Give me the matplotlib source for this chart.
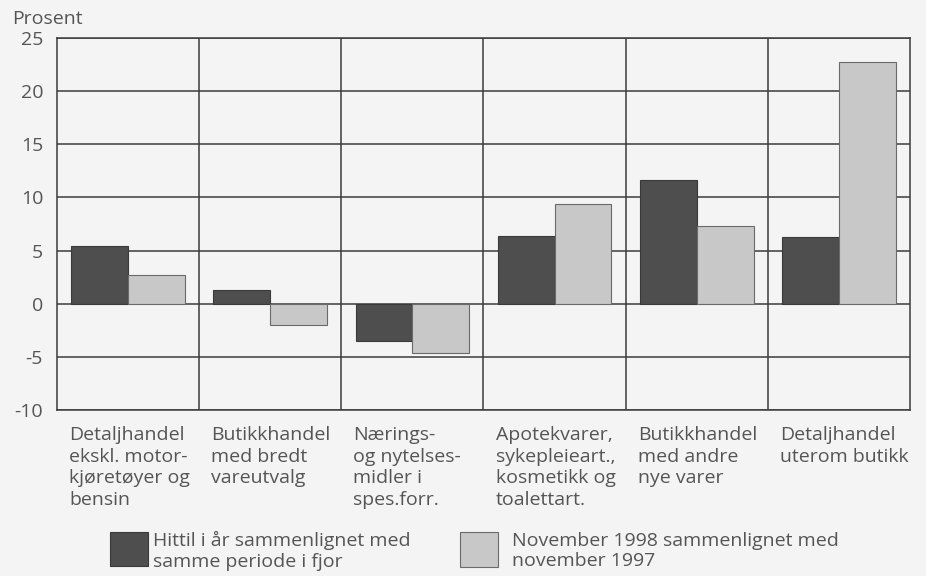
import matplotlib
matplotlib.use("Agg")
import matplotlib.pyplot as plt
from matplotlib.patches import Rectangle
import numpy as np

# Data
categories = [
    "Detaljhandel\nekskl. motor-\nkjøretøyer og\nbensin",
    "Butikkhandel\nmed bredt\nvareutvalg",
    "Nærings-\nog nytelses-\nmidler i\nspes.forr.",
    "Apotekvarer,\nsykepleieart.,\nkosmetikk og\ntoalettart.",
    "Butikkhandel\nmed andre\nnye varer",
    "Detaljhandel\nuterom butikk",
]
hittil = [5.4, 1.25, -3.5, 6.4, 11.65, 6.3]
november = [2.7, -2.0, -4.6, 9.4, 7.3, 22.7]
yticks = [-10, -5, 0, 5, 10, 15, 20, 25]
legend_labels = ["Hittil i år sammenlignet med\nsamme periode i fjor",
                 "November 1998 sammenlignet med\nnovember 1997"]

bg = "#f4f4f4"
dark = "#4e4e4e"
light = "#c8c8c8"
grid = "#3c3c3c"
txt = "#555555"
fs = 14

plt.rcParams['font.family'] = ['Open Sans', 'DejaVu Sans']

fig = plt.figure(figsize=(9.26, 5.76), dpi=100, facecolor=bg)
ax = fig.add_axes([57 / 926, 1 - 410 / 576, (910 - 57) / 926, (410 - 38) / 576])
ax.set_facecolor(bg)

x = np.arange(len(categories))
w = 0.4
ax.bar(x - w / 2, hittil, w, color=dark, edgecolor="#3a3a3a", linewidth=0.8, zorder=3)
ax.bar(x + w / 2, november, w, color=light, edgecolor="#6a6a6a", linewidth=0.8, zorder=3)

ax.set_xlim(-0.5, len(categories) - 0.5)
ax.set_ylim(-10, 25)
ax.set_yticks(yticks)
ax.set_yticklabels([str(t) for t in yticks], fontsize=fs, color=txt)
ax.tick_params(axis='y', length=0, pad=10)
ax.set_xticks([])

for t in yticks:
    ax.axhline(t, color=grid, linewidth=1.1, zorder=1)
for i in range(1, len(categories)):
    ax.axvline(i - 0.5, color=grid, linewidth=1.1, zorder=1)
for s in ax.spines.values():
    s.set_color(grid)
    s.set_linewidth(1.1)

for i, lab in enumerate(categories):
    ax.text(i - 0.415, -11.5, lab, ha='left', va='top', fontsize=fs,
            color=txt, linespacing=1.26, clip_on=False)

fig.text(12 / 926, 1 - 19 / 576, "Prosent", ha='left', va='center',
         fontsize=fs, color=txt)

# Legend
fig.add_artist(Rectangle((110 / 926, 1 - 566 / 576), 38 / 926, 34 / 576,
                         transform=fig.transFigure, facecolor=dark,
                         edgecolor="#3a3a3a", linewidth=0.8))
fig.text(153 / 926, 1 - 551 / 576, legend_labels[0], ha='left', va='center',
         fontsize=fs, color=txt, linespacing=1.2)
fig.add_artist(Rectangle((460 / 926, 1 - 567 / 576), 38 / 926, 35 / 576,
                         transform=fig.transFigure, facecolor=light,
                         edgecolor="#6a6a6a", linewidth=0.8))
fig.text(512 / 926, 1 - 551 / 576, legend_labels[1], ha='left', va='center',
         fontsize=fs, color=txt, linespacing=1.2)

fig.savefig("out.png", dpi=100, facecolor=bg)
